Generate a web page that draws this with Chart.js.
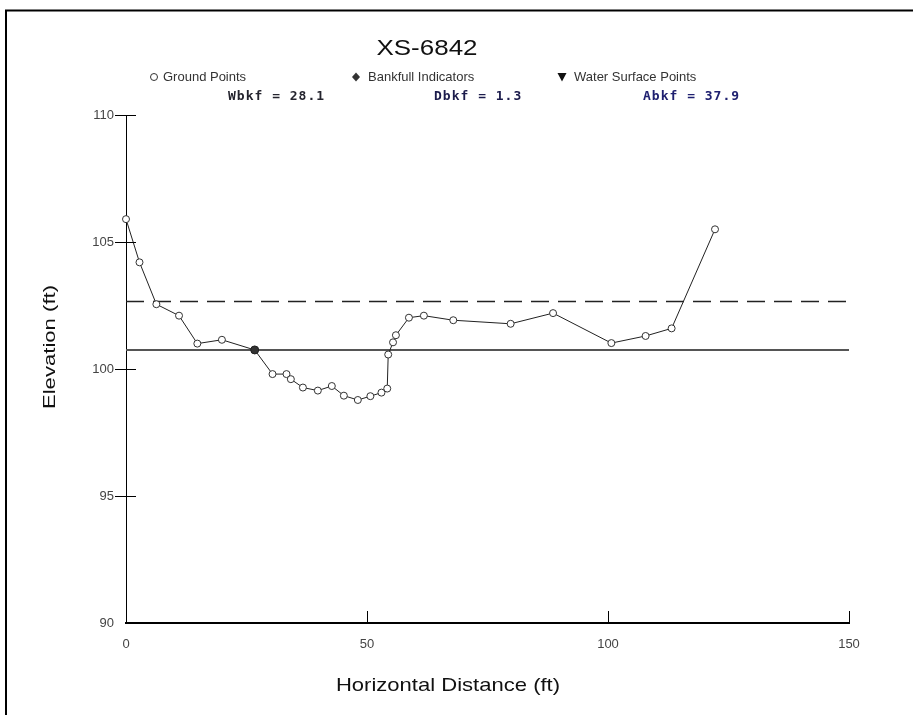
<!DOCTYPE html>
<html lang="en">
<head>
<meta charset="UTF-8">
<title>XS-6842</title>
<script src="https://cdn.jsdelivr.net/npm/chart.js@4.4.1/dist/chart.umd.min.js"></script>
<style>
    html, body { margin: 0; padding: 0; background: #ffffff; }
    #wrap { width: 913px; height: 715px; position: relative; }
</style>
</head>
<body>
<div id="wrap"><canvas id="xs" width="913" height="715"></canvas></div>
<script>
// surveyed ground points across the section (ft)
const distance = [0, 2.8, 6.3, 11.0, 14.8, 19.9, 26.7, 30.4, 33.3, 34.2, 36.7, 39.8, 42.7, 45.2,
    48.1, 50.7, 53.0, 54.2, 54.4, 55.4, 56.0, 58.7, 61.8, 67.9, 79.8, 88.6, 100.7, 107.8, 113.2, 122.2];
const elevation = [105.9, 104.2, 102.55, 102.1, 101.0, 101.15, 100.75, 99.8, 99.8, 99.6, 99.27, 99.15, 99.33, 98.95,
    98.78, 98.93, 99.07, 99.23, 100.57, 101.05, 101.33, 102.02, 102.1, 101.92, 101.78, 102.2, 101.02, 101.3, 101.6, 105.5];

// bankfull indicator and reference elevations
const bankfullX = [26.7];
const bankfullY = [100.75];
const bankfullElev = 100.75;
const floodproneElev = 102.66;
const lineExtent = [0, 150];

// axis ticks
const xTicks = [0, 50, 100, 150];
const yTicks = [90, 95, 100, 105, 110];

// summary values shown under the legend
const statNames = ['Wbkf', 'Dbkf', 'Abkf'];
const statValues = ['28.1', '1.3', '37.9'];

const SANS = '"Liberation Sans", Arial, sans-serif';

function stretchedText(ctx, text, x, y, sx, angle) {
    ctx.save();
    ctx.translate(x, y);
    if (angle) ctx.rotate(angle);
    ctx.scale(sx, 1);
    ctx.fillText(text, 0, 0);
    ctx.restore();
}

const decorations = {
    id: 'decorations',
    beforeDraw(chart) {
        const ctx = chart.ctx;
        ctx.save();
        ctx.fillStyle = '#ffffff';
        ctx.fillRect(0, 0, chart.width, chart.height);
        // frame
        ctx.strokeStyle = '#000';
        ctx.lineWidth = 2;
        ctx.beginPath();
        ctx.moveTo(6, chart.height);
        ctx.lineTo(6, 10.5);
        ctx.lineTo(chart.width, 10.5);
        ctx.stroke();
        ctx.restore();
    },
    afterDraw(chart) {
        const ctx = chart.ctx;
        const xs = chart.scales.x, ys = chart.scales.y;
        const area = chart.chartArea;
        ctx.save();

        // tick marks: y ticks cross the axis, x ticks point up into the plot
        ctx.strokeStyle = '#000';
        ctx.lineWidth = 1;
        ctx.beginPath();
        yTicks.slice(1).forEach(v => {
            const py = Math.round(ys.getPixelForValue(v)) + 0.5;
            ctx.moveTo(area.left - 11, py);
            ctx.lineTo(area.left + 10, py);
        });
        xTicks.slice(1).forEach(v => {
            const px = Math.round(xs.getPixelForValue(v)) + 0.5;
            ctx.moveTo(px, area.bottom - 12);
            ctx.lineTo(px, area.bottom);
        });
        ctx.stroke();

        // title
        ctx.fillStyle = '#111';
        ctx.textAlign = 'center';
        ctx.textBaseline = 'alphabetic';
        ctx.font = '22px ' + SANS;
        stretchedText(ctx, 'XS-6842', 427, 55, 1.18);

        // legend
        const ly = 77;
        ctx.font = '13px ' + SANS;
        ctx.textAlign = 'left';
        ctx.textBaseline = 'middle';
        ctx.fillStyle = '#333';
        ctx.strokeStyle = '#333';
        ctx.lineWidth = 1;
        ctx.beginPath();
        ctx.arc(154, ly, 3.5, 0, Math.PI * 2);
        ctx.stroke();
        ctx.fillText('Ground Points', 163, ly);
        ctx.beginPath();
        ctx.moveTo(356, ly - 4.5);
        ctx.lineTo(360, ly);
        ctx.lineTo(356, ly + 4.5);
        ctx.lineTo(352, ly);
        ctx.closePath();
        ctx.fill();
        ctx.fillText('Bankfull Indicators', 368, ly);
        ctx.fillStyle = '#111';
        ctx.beginPath();
        ctx.moveTo(557.5, ly - 4);
        ctx.lineTo(566.5, ly - 4);
        ctx.lineTo(562, ly + 4.5);
        ctx.closePath();
        ctx.fill();
        ctx.fillStyle = '#333';
        ctx.fillText('Water Surface Points', 574, ly);

        // bankfull summary
        const statX = [228, 434, 643];
        const statColors = ['#24242e', '#1c1c4c', '#1f2070'];
        ctx.font = 'bold 13px "DejaVu Sans Mono", monospace';
        ctx.letterSpacing = '1px';
        statNames.forEach((n, i) => {
            ctx.fillStyle = statColors[i];
            ctx.fillText(n + ' = ' + statValues[i], statX[i], 97);
        });
        ctx.letterSpacing = '0px';

        // axis titles
        ctx.fillStyle = '#111';
        ctx.textAlign = 'center';
        ctx.textBaseline = 'middle';
        ctx.font = '19px ' + SANS;
        stretchedText(ctx, 'Horizontal Distance (ft)', 448, 686, 1.16);
        ctx.font = '17px ' + SANS;
        stretchedText(ctx, 'Elevation (ft)', 50, 347, 1.3, -Math.PI / 2);

        ctx.restore();
    }
};

new Chart(document.getElementById('xs'), {
    type: 'scatter',
    data: {
        datasets: [
            {
                label: 'Bankfull Indicators',
                data: bankfullX.map((x, i) => ({ x: x, y: bankfullY[i] })),
                pointRadius: 4,
                pointBackgroundColor: '#333',
                pointBorderColor: '#222',
                pointBorderWidth: 1,
                showLine: false,
                clip: false
            },
            {
                label: 'Ground Points',
                data: distance.map((x, i) => ({ x: x, y: elevation[i] })),
                showLine: true,
                borderColor: '#222',
                borderWidth: 1,
                pointRadius: 3.5,
                pointBackgroundColor: '#fff',
                pointBorderColor: '#333',
                pointBorderWidth: 1,
                clip: false
            },
            {
                label: 'Bankfull',
                data: lineExtent.map(x => ({ x: x, y: bankfullElev })),
                showLine: true,
                borderColor: '#555',
                borderWidth: 2,
                pointRadius: 0
            },
            {
                label: 'Flood Prone',
                data: lineExtent.map(x => ({ x: x, y: floodproneElev })),
                showLine: true,
                borderColor: '#222',
                borderWidth: 1.5,
                borderDash: [18, 9],
                pointRadius: 0
            }
        ]
    },
    options: {
        responsive: false,
        animation: false,
        events: [],
        layout: { padding: { top: 115, right: 64, left: 0, bottom: 0 } },
        plugins: { legend: { display: false }, tooltip: { enabled: false }, title: { display: false } },
        scales: {
            x: {
                type: 'linear',
                min: 0,
                max: 150,
                afterBuildTicks: s => { s.ticks = xTicks.map(v => ({ value: v })); },
                afterFit: s => { s.height = 92; },
                grid: { display: false, drawTicks: false },
                border: { display: true, color: '#000', width: 2 },
                ticks: { color: '#444', padding: 14, font: { family: SANS, size: 13 } }
            },
            y: {
                type: 'linear',
                min: 90,
                max: 110,
                afterBuildTicks: s => { s.ticks = yTicks.map(v => ({ value: v })); },
                afterFit: s => { s.width = 126; },
                grid: { display: false, drawTicks: false },
                border: { display: true, color: '#000', width: 1 },
                ticks: { color: '#444', padding: 12, font: { family: SANS, size: 13 } }
            }
        }
    },
    plugins: [decorations]
});
</script>
</body>
</html>
